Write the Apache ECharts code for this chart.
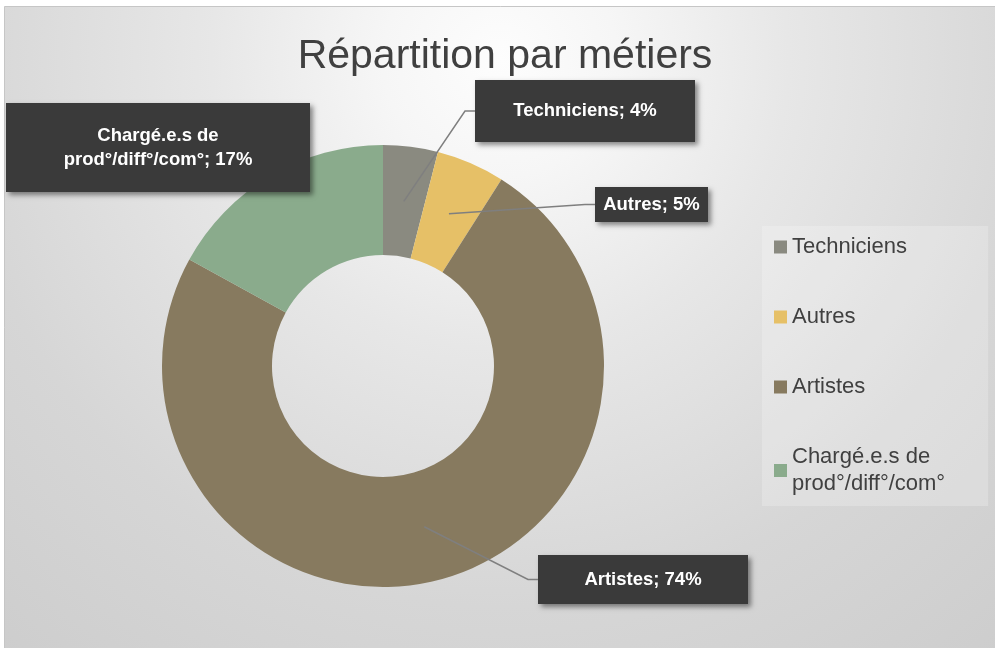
<!DOCTYPE html>
<html>
<head>
<meta charset="utf-8">
<script src="https://cdn.jsdelivr.net/npm/echarts@6/dist/echarts.min.js"></script>
<style>
  html, body { margin: 0; padding: 0; background: #ffffff; }
  #chart { width: 995px; height: 648px; }
</style>
</head>
<body>
<div id="chart"></div>
<script>
// ---- data ----
const categories = ['Techniciens', 'Autres', 'Artistes', 'Chargé.e.s de prod°/diff°/com°'];
const shares = [4, 5, 74, 17];
const sliceColors = ['#8a8a80', '#e6c067', '#877a5f', '#8aab8c'];
const titleText = 'Répartition par métiers';

// ---- layout (not data) ----
const FONT = "'Liberation Sans', Arial, sans-serif";
const PIE_CENTER = [383, 366];
const R_IN = 111, R_OUT = 221;
const labelBoxes = [
  { cx: 585,   cy: 111,   w: 220, h: 62, lines: 1, leader: true },
  { cx: 651.5, cy: 204.5, w: 113, h: 35, lines: 1, leader: true },
  { cx: 643,   cy: 579.5, w: 210, h: 49, lines: 1, leader: true },
  { cx: 158,   cy: 147.5, w: 304, h: 89, lines: 2, leader: false }
];
const LABEL_LH = 24;
const LEGEND_LH = 27;

const total = shares.reduce((a, b) => a + b, 0);
const ringMid = (R_IN + R_OUT) / 2 / R_OUT;
let acc = 0;
const leaderData = shares.map((v, i) => { const mid = acc + v / 2; acc += v; return [ringMid, mid, i]; });

const wrapName = n => n.replace(' prod', '\nprod');

const chart = echarts.init(document.getElementById('chart'));
const bg = new echarts.graphic.RadialGradient(500, 60, 780, [
  { offset: 0,    color: '#fdfdfd' },
  { offset: 0.15, color: '#f6f6f6' },
  { offset: 0.37, color: '#e7e7e7' },
  { offset: 0.7,  color: '#d6d6d6' },
  { offset: 1,    color: '#cdcdcd' }
], true);

chart.setOption({
  animation: false,
  graphic: {
    elements: [{
      type: 'rect', z: -100, silent: true,
      shape: { x: 4.5, y: 6.5, width: 1000, height: 650 },
      style: { fill: bg, stroke: '#c6c6c6', lineWidth: 1 }
    }]
  },
  title: {
    text: titleText,
    left: 500, top: 31, textAlign: 'center',
    textStyle: { fontFamily: FONT, fontSize: 41, fontWeight: 'normal', color: '#404040' }
  },
  legend: {
    orient: 'vertical',
    left: 762, top: 226,
    padding: [7.5, 43, 8.5, 12],
    itemGap: 43,
    itemWidth: 13, itemHeight: 13,
    icon: 'rect',
    backgroundColor: 'rgba(255,255,255,0.22)',
    data: categories,
    formatter: n => wrapName(n),
    textStyle: { fontFamily: FONT, fontSize: 22, color: '#404040', lineHeight: LEGEND_LH },
    selectedMode: false
  },
  polar: { center: PIE_CENTER, radius: R_OUT },
  angleAxis: { type: 'value', min: 0, max: total, startAngle: 90, clockwise: true, show: false },
  radiusAxis: { type: 'value', min: 0, max: 1, show: false },
  series: [
    {
      type: 'pie',
      center: PIE_CENTER,
      radius: [R_IN, R_OUT],
      startAngle: 90,
      clockwise: true,
      silent: true,
      emphasis: { disabled: true },
      data: categories.map((n, i) => ({
        name: n,
        value: shares[i],
        itemStyle: { color: sliceColors[i] },
        label: {
          width: labelBoxes[i].w,
          padding: [(labelBoxes[i].h - labelBoxes[i].lines * LABEL_LH) / 2, 0]
        }
      })),
      label: {
        show: true,
        position: 'outside',
        formatter: p => wrapName(p.name) + '; ' + p.percent + '%',
        fontFamily: FONT,
        fontSize: 18.5,
        fontWeight: 'bold',
        color: '#ffffff',
        lineHeight: LABEL_LH,
        align: 'center',
        backgroundColor: '#3a3a3a',
        shadowColor: 'rgba(0,0,0,0.45)',
        shadowBlur: 5,
        shadowOffsetX: 3,
        shadowOffsetY: 3
      },
      labelLine: { show: false },
      labelLayout: params => {
        const b = labelBoxes[params.dataIndex];
        return { x: b.cx, y: b.cy, align: 'center', verticalAlign: 'middle', moveOverlap: null };
      }
    },
    {
      type: 'custom',
      coordinateSystem: 'polar',
      silent: true,
      z: 3,
      data: leaderData,
      renderItem: (params, api) => {
        const i = api.value(2);
        const b = labelBoxes[i];
        if (!b.leader) return null;
        const p0 = api.coord([api.value(0), api.value(1)]);
        const xe = b.cx - b.w / 2;
        return {
          type: 'polyline',
          shape: { points: [p0, [xe - 10, b.cy], [xe, b.cy]] },
          style: { stroke: '#7f7f7f', lineWidth: 1.5, fill: null }
        };
      }
    }
  ]
});
</script>
</body>
</html>
